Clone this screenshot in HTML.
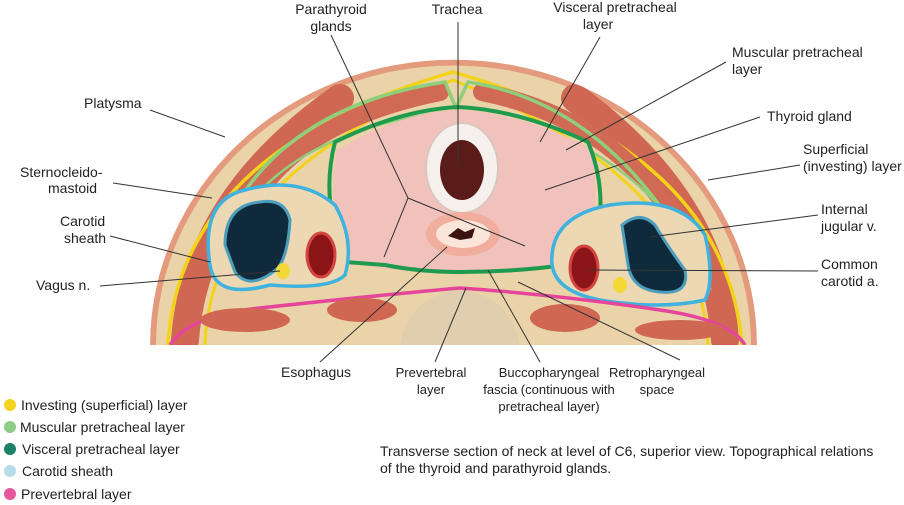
<!DOCTYPE html>
<html><head><meta charset="utf-8"><style>
body{margin:0;background:#fff;width:904px;height:505px;overflow:hidden}
svg{display:block}
text{font-family:"Liberation Sans",sans-serif;font-size:14px;fill:#222}
text.s{font-size:13px}
</style></head><body>
<svg width="904" height="505" viewBox="0 0 904 505">
<defs><clipPath id="dome"><path d="M150,345 A303,285 0 0 1 757,345 Z"/></clipPath></defs>
<g clip-path="url(#dome)">
<path d="M150,345 A303,285 0 0 1 757,345 Z" fill="#e49a7c"/>
<path d="M156,345 A297,279 0 0 1 751,345 Z" fill="#ead3a8"/>
<path d="M185,340 Q195,200 340,98" fill="none" stroke="#cf6752" stroke-width="28" stroke-linecap="round"/>
<path d="M725,340 Q715,200 575,98" fill="none" stroke="#cf6752" stroke-width="28" stroke-linecap="round"/>
<path d="M168,345 Q180,150 453,72 Q726,150 742,345" fill="none" stroke="#f3d21a" stroke-width="3.5"/>
<path d="M205,345 Q210,180 453,80 Q700,180 708,345" fill="none" stroke="#f3d21a" stroke-width="3"/>
<path d="M250,205 Q300,120 440,92" fill="none" stroke="#d06a55" stroke-width="18" stroke-linecap="round"/>
<path d="M482,92 Q620,120 685,235" fill="none" stroke="#d06a55" stroke-width="18" stroke-linecap="round"/>
<path d="M230,215 Q290,105 445,82 L456,108 L468,82 Q620,105 710,290" fill="none" stroke="#8fcf7c" stroke-width="3.5"/>
<path d="M240,215 Q300,130 445,112" fill="none" stroke="#8fcf7c" stroke-width="2.5"/>
<path d="M468,112 Q620,130 700,260" fill="none" stroke="#8fcf7c" stroke-width="2.5"/>
<path d="M337,150 Q400,112 458,110 Q520,112 590,148 Q605,200 580,262 Q500,275 455,270 Q400,275 350,262 Q325,210 337,150Z" fill="#f1c2bc"/>
<path d="M335,142 Q400,110 458,107 Q520,110 588,142 Q612,200 590,262 L540,268 Q500,272 460,272 Q420,272 385,265 L345,262 Q320,200 335,142Z" fill="none" stroke="#1f9a4e" stroke-width="4"/>
<ellipse cx="462" cy="168" rx="36" ry="45" fill="#f5f0ec" stroke="#d9c6bc" stroke-width="2"/>
<ellipse cx="462" cy="170" rx="22" ry="30" fill="#5a1c18"/>
<ellipse cx="463" cy="234" rx="37" ry="22" fill="#f1ad9e"/>
<ellipse cx="463" cy="234" rx="27" ry="14" fill="#fbe4d8"/>
<path d="M448,236 L458,228 L465,232 L475,228 L472,238 L460,240Z" fill="#3a1210"/>
<path d="M210,265 Q200,200 245,190 Q300,175 335,205 Q355,240 345,275 Q330,290 270,285 Q215,300 210,265Z" fill="#ecd8b2" stroke="#3fb2df" stroke-width="3.5"/>
<path d="M225,245 Q225,205 260,202 Q285,198 290,220 Q288,255 278,268 Q250,292 235,272Z" fill="#0f2a3a" stroke="#4d9ebd" stroke-width="3"/>
<ellipse cx="283" cy="271" rx="7" ry="8" fill="#f3d838"/>
<ellipse cx="321" cy="255" rx="14" ry="22" fill="#8a1418" stroke="#d24540" stroke-width="3"/>
<path d="M552,255 Q555,215 610,205 Q680,195 705,235 Q715,280 705,300 Q660,310 600,300 Q548,290 552,255Z" fill="#ecd8b2" stroke="#3fb2df" stroke-width="3.5"/>
<path d="M622,225 Q640,210 655,225 Q670,250 685,270 Q690,295 660,292 Q632,290 628,265Z" fill="#0f2a3a" stroke="#4d9ebd" stroke-width="3"/>
<ellipse cx="620" cy="285" rx="7" ry="8" fill="#f3d838"/>
<ellipse cx="584" cy="268" rx="14" ry="22" fill="#8a1418" stroke="#d24540" stroke-width="3"/>
<path d="M400,345 Q410,295 460,290 Q510,295 520,345Z" fill="#e0ceae"/>
<path d="M170,345 Q190,315 260,308 Q380,295 460,288 Q560,295 660,310 Q730,320 745,345" fill="none" stroke="#e5459a" stroke-width="3.5"/>
<ellipse cx="245" cy="320" rx="45" ry="12" fill="#cf6752"/>
<ellipse cx="362" cy="310" rx="35" ry="12" fill="#cf6752"/>
<ellipse cx="565" cy="318" rx="35" ry="14" fill="#cf6752"/>
<ellipse cx="680" cy="330" rx="45" ry="10" fill="#cf6752"/>
</g>
<g stroke="#333" stroke-width="1" fill="none">
<path d="M331,35 L408,198 L384,257 M408,198 L525,246"/>
<path d="M458,22 L458,165"/>
<path d="M600,37 L540,142"/>
<path d="M726,62 L566,150"/>
<path d="M760,117 L545,190"/>
<path d="M800,165 L708,180"/>
<path d="M150,110 L225,137"/>
<path d="M113,183 L212,198"/>
<path d="M110,236 L210,262"/>
<path d="M100,286 L280,271"/>
<path d="M818,215 L650,237"/>
<path d="M818,271 L590,270"/>
<path d="M320,362 L447,247"/>
<path d="M435,362 L466,288"/>
<path d="M540,362 L488,270"/>
<path d="M680,360 L518,282"/>
</g>
<text x="331" y="14" text-anchor="middle">Parathyroid</text>
<text x="331" y="31" text-anchor="middle">glands</text>
<text x="457" y="14" text-anchor="middle">Trachea</text>
<text x="615" y="12" text-anchor="middle">Visceral  pretracheal</text>
<text x="598" y="29" text-anchor="middle">layer</text>
<text x="732" y="57">Muscular pretracheal</text>
<text x="732" y="74">layer</text>
<text x="84" y="108">Platysma</text>
<text x="767" y="121">Thyroid gland</text>
<text x="803" y="154">Superficial</text>
<text x="803" y="171">(investing) layer</text>
<text x="20" y="177">Sternocleido-</text>
<text x="48" y="193">mastoid</text>
<text x="60" y="226">Carotid</text>
<text x="64" y="243">sheath</text>
<text x="821" y="214">Internal</text>
<text x="821" y="231">jugular v.</text>
<text x="36" y="290">Vagus n.</text>
<text x="821" y="269">Common</text>
<text x="821" y="286">carotid a.</text>
<text x="281" y="377">Esophagus</text>
<text class="s" x="431" y="377" text-anchor="middle">Prevertebral</text>
<text class="s" x="431" y="394" text-anchor="middle">layer</text>
<text class="s" x="549" y="377" text-anchor="middle">Buccopharyngeal</text>
<text class="s" x="549" y="394" text-anchor="middle">fascia (continuous with</text>
<text class="s" x="549" y="411" text-anchor="middle">pretracheal layer)</text>
<text class="s" x="657" y="377" text-anchor="middle">Retropharyngeal</text>
<text class="s" x="657" y="394" text-anchor="middle">space</text>
<circle cx="10" cy="405" r="6" fill="#f5d21e"/><text x="21" y="410">Investing (superficial) layer</text>
<circle cx="10" cy="427" r="6" fill="#8ccc86"/><text x="20" y="432">Muscular pretracheal layer</text>
<circle cx="10" cy="449" r="6" fill="#1a8068"/><text x="22" y="454">Visceral pretracheal layer</text>
<circle cx="10" cy="471" r="6" fill="#b7dbe8"/><text x="22" y="476">Carotid sheath</text>
<circle cx="10" cy="494" r="6" fill="#e6579c"/><text x="21" y="499">Prevertebral layer</text>
<text x="380" y="456">Transverse section of neck at level of C6, superior view. Topographical relations</text>
<text x="380" y="473">of the thyroid and parathyroid glands.</text>
</svg>
</body></html>
